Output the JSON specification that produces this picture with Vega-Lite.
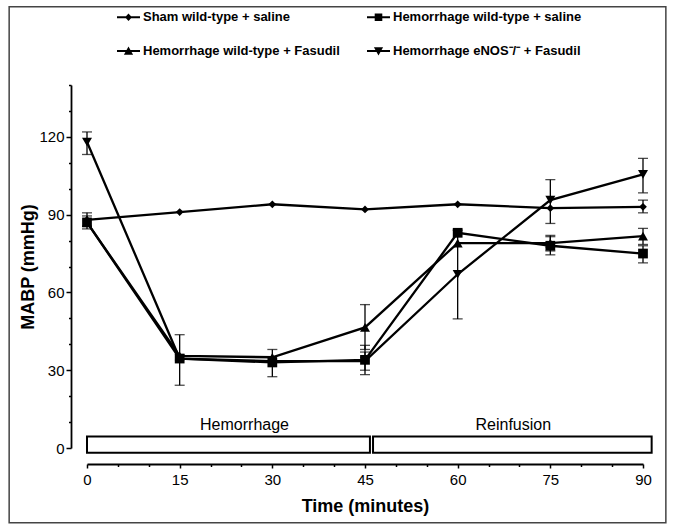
{
  "$schema": "https://vega.github.io/schema/vega-lite/v6.json",
  "width": 556,
  "height": 363,
  "autosize": {"type": "none"},
  "padding": {"left": 87, "top": 85, "right": 32, "bottom": 84},
  "background": "white",
  "config": {
    "view": {"stroke": null},
    "font": "Liberation Sans",
    "axis": {
      "domainColor": "black", "domainWidth": 1.8, "tickColor": "black", "tickWidth": 1.5,
      "labelColor": "black", "labelFont": "Liberation Sans", "labelFontSize": 15,
      "titleFont": "Liberation Sans", "titleFontSize": 18, "titleFontWeight": "bold", "titleColor": "black",
      "grid": false, "labelFlush": false, "labelOverlap": false
    },
    "legend": {
      "symbolSize": 529, "symbolStrokeWidth": 0, "symbolFillColor": "black",
      "symbolOpacity": 1, "labelFontSize": 13, "labelFontWeight": "bold", "labelFont": "Liberation Sans",
      "labelColor": "black", "labelOffset": 3, "labelLimit": 400
    }
  },
  "datasets": {
    "series": [
      {"group": "Sham wild-type + saline", "t": 0, "v": 88, "lo": 85.5, "hi": 90.7},
      {"group": "Sham wild-type + saline", "t": 15, "v": 91, "lo": null, "hi": null},
      {"group": "Sham wild-type + saline", "t": 30, "v": 94, "lo": null, "hi": null},
      {"group": "Sham wild-type + saline", "t": 45, "v": 92, "lo": null, "hi": null},
      {"group": "Sham wild-type + saline", "t": 60, "v": 94, "lo": null, "hi": null},
      {"group": "Sham wild-type + saline", "t": 75, "v": 92.5, "lo": null, "hi": null},
      {"group": "Sham wild-type + saline", "t": 90, "v": 93, "lo": 90.7, "hi": 95.6},
      {"group": "Hemorrhage wild-type + saline", "t": 0, "v": 87, "lo": 84.5, "hi": 89.5},
      {"group": "Hemorrhage wild-type + saline", "t": 15, "v": 34.5, "lo": null, "hi": null},
      {"group": "Hemorrhage wild-type + saline", "t": 30, "v": 33, "lo": 27.5, "hi": 38},
      {"group": "Hemorrhage wild-type + saline", "t": 45, "v": 34, "lo": 28.3, "hi": 39.6},
      {"group": "Hemorrhage wild-type + saline", "t": 60, "v": 83, "lo": null, "hi": null},
      {"group": "Hemorrhage wild-type + saline", "t": 75, "v": 78, "lo": 74.5, "hi": 81.5},
      {"group": "Hemorrhage wild-type + saline", "t": 90, "v": 75, "lo": 71.4, "hi": 78},
      {"group": "Hemorrhage wild-type + Fasudil", "t": 0, "v": 87, "lo": null, "hi": null},
      {"group": "Hemorrhage wild-type + Fasudil", "t": 15, "v": 35.5, "lo": null, "hi": null},
      {"group": "Hemorrhage wild-type + Fasudil", "t": 30, "v": 35, "lo": null, "hi": null},
      {"group": "Hemorrhage wild-type + Fasudil", "t": 45, "v": 46.5, "lo": 38, "hi": 55.3},
      {"group": "Hemorrhage wild-type + Fasudil", "t": 60, "v": 79, "lo": null, "hi": null},
      {"group": "Hemorrhage wild-type + Fasudil", "t": 75, "v": 79, "lo": 76, "hi": 82},
      {"group": "Hemorrhage wild-type + Fasudil", "t": 90, "v": 81.7, "lo": 78.5, "hi": 84.7},
      {"group": "Hemorrhage eNOS⁻/⁻ + Fasudil", "t": 0, "v": 118, "lo": 113.2, "hi": 121.9},
      {"group": "Hemorrhage eNOS⁻/⁻ + Fasudil", "t": 15, "v": 34.5, "lo": 24.2, "hi": 43.7},
      {"group": "Hemorrhage eNOS⁻/⁻ + Fasudil", "t": 30, "v": 33.5, "lo": null, "hi": null},
      {"group": "Hemorrhage eNOS⁻/⁻ + Fasudil", "t": 45, "v": 33.5, "lo": 30, "hi": 37},
      {"group": "Hemorrhage eNOS⁻/⁻ + Fasudil", "t": 60, "v": 67, "lo": 49.8, "hi": 84},
      {"group": "Hemorrhage eNOS⁻/⁻ + Fasudil", "t": 75, "v": 95.6, "lo": 86.6, "hi": 103.5},
      {"group": "Hemorrhage eNOS⁻/⁻ + Fasudil", "t": 90, "v": 105.5, "lo": 98.4, "hi": 111.7}
    ],
    "phases": [
      {"phase": "Hemorrhage", "start": 0, "end": 45.8, "labelAt": 25.5},
      {"phase": "Reinfusion", "start": 46.3, "end": 91.4, "labelAt": 69}
    ]
  },
  "layer": [
    {
      "data": {"values": [{"frame": "border"}]},
      "mark": {"type": "rect", "fill": null, "stroke": "#444", "strokeWidth": 1.5},
      "encoding": {
        "x": {"datum": -12.6, "type": "quantitative", "scale": {"domain": [0, 90]}, "title": "Time (minutes)"},
        "x2": {"datum": 93.7},
        "y": {"datum": 170.2, "type": "quantitative", "scale": {"domain": [0, 140]}, "title": "MABP (mmHg)"},
        "y2": {"datum": -28.8}
      }
    },
    {
      "data": {"name": "phases"},
      "mark": {"type": "rect", "fill": "white", "stroke": "black", "strokeWidth": 2},
      "encoding": {
        "x": {"field": "start", "type": "quantitative", "title": "Time (minutes)"},
        "x2": {"field": "end"},
        "y": {"datum": 4.4, "type": "quantitative", "title": "MABP (mmHg)"},
        "y2": {"datum": -1.8}
      }
    },
    {
      "data": {"name": "phases"},
      "mark": {"type": "text", "fontSize": 16, "font": "Liberation Sans", "color": "black", "baseline": "middle", "align": "center"},
      "encoding": {
        "x": {"field": "labelAt", "type": "quantitative", "title": "Time (minutes)"},
        "y": {"datum": 9, "type": "quantitative", "title": "MABP (mmHg)"},
        "text": {"field": "phase"}
      }
    },
    {
      "data": {"name": "series"},
      "transform": [{"filter": "datum.lo != null"}],
      "mark": {"type": "rule", "color": "black", "strokeWidth": 1.3},
      "encoding": {
        "x": {"field": "t", "type": "quantitative", "title": "Time (minutes)"},
        "y": {"field": "lo", "type": "quantitative", "title": "MABP (mmHg)"},
        "y2": {"field": "hi"}
      }
    },
    {
      "data": {"name": "series"},
      "transform": [{"filter": "datum.lo != null"}],
      "mark": {"type": "tick", "color": "black", "orient": "horizontal", "size": 10, "thickness": 1.3},
      "encoding": {
        "x": {"field": "t", "type": "quantitative", "title": "Time (minutes)"},
        "y": {"field": "lo", "type": "quantitative", "title": "MABP (mmHg)"}
      }
    },
    {
      "data": {"name": "series"},
      "transform": [{"filter": "datum.lo != null"}],
      "mark": {"type": "tick", "color": "black", "orient": "horizontal", "size": 10, "thickness": 1.3},
      "encoding": {
        "x": {"field": "t", "type": "quantitative", "title": "Time (minutes)"},
        "y": {"field": "hi", "type": "quantitative", "title": "MABP (mmHg)"}
      }
    },
    {
      "data": {"name": "series"},
      "mark": {"type": "line", "color": "black", "strokeWidth": 2.3},
      "encoding": {
        "x": {
          "field": "t", "type": "quantitative",
          "axis": {
            "title": "Time (minutes)", "offset": 16, "tickCount": 100,
            "values": [0, 5, 10, 15, 20, 25, 30, 35, 40, 45, 50, 55, 60, 65, 70, 75, 80, 85, 90],
            "labelExpr": "datum.value % 15 === 0 ? datum.label : ''",
            "labelOverlap": false,
            "tickSize": {"condition": {"test": "datum.value % 15 === 0", "value": 4}, "value": 2.5},
            "labelPadding": 4, "titlePadding": 10
          }
        },
        "y": {
          "field": "v", "type": "quantitative",
          "axis": {
            "title": "MABP (mmHg)", "offset": 16, "tickCount": 100,
            "values": [0, 10, 20, 30, 40, 50, 60, 70, 80, 90, 100, 110, 120, 130, 140],
            "labelExpr": "datum.value % 30 === 0 ? datum.label : ''",
            "labelOverlap": false,
            "tickSize": {"condition": {"test": "datum.value % 30 === 0", "value": 5}, "value": 2.5},
            "labelPadding": 2, "titlePadding": 1
          }
        },
        "detail": {"field": "group"}
      }
    },
    {
      "data": {"name": "series"},
      "transform": [{"filter": "datum.group === 'Sham wild-type + saline'"}],
      "mark": {"type": "point", "filled": true, "color": "black", "opacity": 1, "size": 60, "shape": "diamond"},
      "encoding": {
        "x": {"field": "t", "type": "quantitative", "title": "Time (minutes)"},
        "y": {"field": "v", "type": "quantitative", "title": "MABP (mmHg)"}
      }
    },
    {
      "data": {"name": "series"},
      "transform": [{"filter": "datum.group === 'Hemorrhage wild-type + saline'"}],
      "mark": {"type": "point", "filled": true, "color": "black", "opacity": 1, "size": 95, "shape": "square"},
      "encoding": {
        "x": {"field": "t", "type": "quantitative", "title": "Time (minutes)"},
        "y": {"field": "v", "type": "quantitative", "title": "MABP (mmHg)"}
      }
    },
    {
      "data": {"name": "series"},
      "transform": [{"filter": "datum.group === 'Hemorrhage wild-type + Fasudil'"}],
      "mark": {"type": "point", "filled": true, "color": "black", "opacity": 1, "size": 100, "shape": "triangle-up"},
      "encoding": {
        "x": {"field": "t", "type": "quantitative", "title": "Time (minutes)"},
        "y": {"field": "v", "type": "quantitative", "title": "MABP (mmHg)"}
      }
    },
    {
      "data": {"name": "series"},
      "transform": [{"filter": "datum.group === 'Hemorrhage eNOS⁻/⁻ + Fasudil'"}],
      "mark": {"type": "point", "filled": true, "color": "black", "opacity": 1, "size": 100, "shape": "triangle-down"},
      "encoding": {
        "x": {"field": "t", "type": "quantitative", "title": "Time (minutes)"},
        "y": {"field": "v", "type": "quantitative", "title": "MABP (mmHg)"}
      }
    },
    {
      "data": {"name": "series"},
      "mark": {"type": "point", "filled": true, "color": "black", "opacity": 0},
      "encoding": {
        "x": {"field": "t", "type": "quantitative", "title": "Time (minutes)"},
        "y": {"field": "v", "type": "quantitative", "title": "MABP (mmHg)"},
        "shape": {
          "field": "group", "type": "nominal",
          "scale": {
            "domain": ["Sham wild-type + saline", "Hemorrhage wild-type + saline", "Hemorrhage wild-type + Fasudil", "Hemorrhage eNOS⁻/⁻ + Fasudil"],
            "range": [
              "M-1,-0.08H1V0.08H-1ZM0,-0.32L0.3,0L0,0.32L-0.3,0Z",
              "M-1,-0.08H1V0.08H-1ZM-0.33,-0.33H0.33V0.33H-0.33Z",
              "M-1,-0.08H1V0.08H-1ZM0,-0.4L0.4,0.32H-0.4Z",
              "M-1,-0.08H1V0.08H-1ZM0,0.4L-0.4,-0.32H0.4Z"
            ]
          },
          "legend": {
            "title": null, "orient": "none", "legendX": 30, "legendY": -79.5, "direction": "horizontal",
            "columns": 2, "columnPadding": 27, "rowPadding": 15
          }
        }
      }
    }
  ]
}
